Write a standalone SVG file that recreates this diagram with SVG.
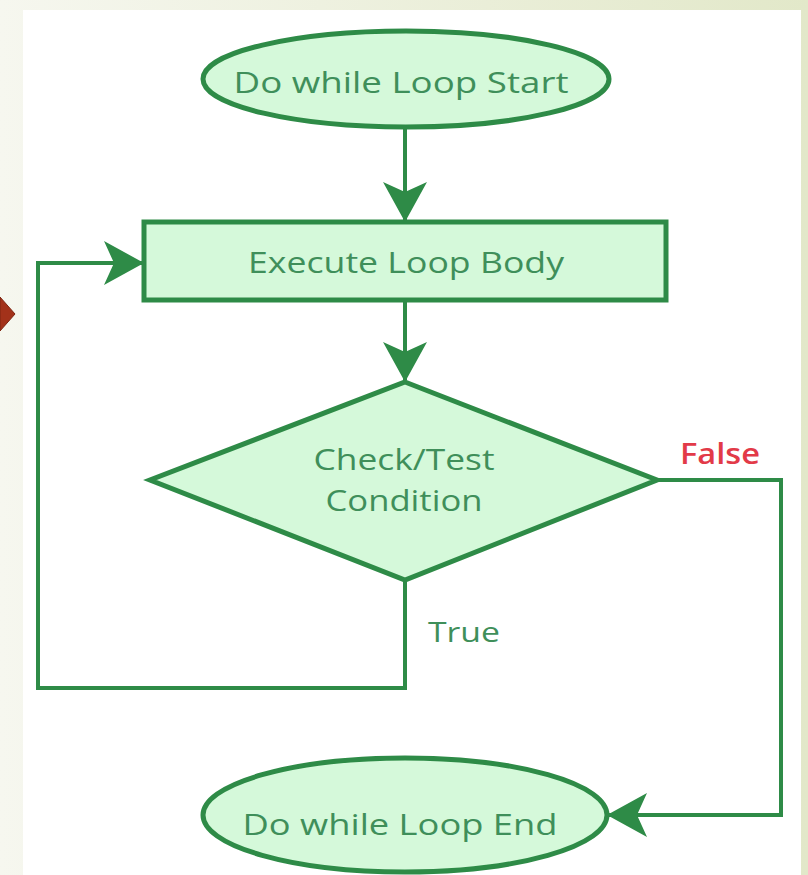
<svg xmlns="http://www.w3.org/2000/svg" width="808" height="875" viewBox="0 0 808 875">
  <defs>
    <linearGradient id="bg" x1="0" y1="0" x2="1" y2="0">
      <stop offset="0" stop-color="#f6f7ef"/>
      <stop offset="1" stop-color="#e2e8c9"/>
    </linearGradient>
    <marker id="arrow" viewBox="0 0 40 44" refX="38" refY="22" markerWidth="40" markerHeight="44" markerUnits="userSpaceOnUse" orient="auto">
      <path d="M0,0 L40,22 L0,44 L10,22 Z" fill="#2e8b47"/>
    </marker>
    <style>
      .shape { fill: #d5f9da; stroke: #2e8b47; stroke-width: 5; }
      .edge { fill: none; stroke: #2e8b47; stroke-width: 4; }
      .label { font-family: "Open Sans", "Liberation Sans", sans-serif; font-size: 29px; fill: #3f8f5a; text-anchor: middle; }
      .tag { font-family: "Open Sans", "Liberation Sans", sans-serif; font-size: 28px; text-anchor: middle; }
    </style>
  </defs>

  <!-- slide background and white panel -->
  <rect x="0" y="0" width="808" height="875" fill="url(#bg)"/>
  <rect x="23" y="10" width="778" height="865" fill="#ffffff"/>
  <polygon points="0,297 15,314 0,331" fill="#a3321a" stroke="#7d2511" stroke-width="1"/>

  <!-- connectors -->
  <g id="connectors">
    <line class="edge" x1="405" y1="128" x2="405" y2="220" marker-end="url(#arrow)"/>
    <line class="edge" x1="405" y1="302" x2="405" y2="380" marker-end="url(#arrow)"/>
    <polyline class="edge" points="405,580 405,688 38,688 38,263 142,263" marker-end="url(#arrow)"/>
    <polyline class="edge" points="657,480 781,480 781,815 609,815" marker-end="url(#arrow)"/>
    <text class="tag" x="720" y="464" fill="#e23a48" font-weight="600" textLength="80" lengthAdjust="spacingAndGlyphs">False</text>
    <text class="tag" x="464" y="642" fill="#3f8f5a" font-weight="500" textLength="72" lengthAdjust="spacingAndGlyphs">True</text>
  </g>

  <g id="start">
    <ellipse class="shape" cx="406" cy="79" rx="203" ry="48"/>
    <text class="label" x="401" y="93" textLength="335" lengthAdjust="spacingAndGlyphs">Do while Loop Start</text>
  </g>

  <g id="body">
    <rect class="shape" x="144" y="222" width="522" height="78"/>
    <text class="label" x="406" y="273" textLength="316" lengthAdjust="spacingAndGlyphs">Execute Loop Body</text>
  </g>

  <g id="condition">
    <polygon class="shape" points="405,382 657,480 405,580 150,480"/>
    <text class="label" x="404" y="470" textLength="181" lengthAdjust="spacingAndGlyphs">Check/Test</text>
    <text class="label" x="404" y="511" textLength="157" lengthAdjust="spacingAndGlyphs">Condition</text>
  </g>

  <g id="end">
    <ellipse class="shape" cx="405" cy="815" rx="202" ry="57"/>
    <text class="label" x="400" y="835" textLength="315" lengthAdjust="spacingAndGlyphs">Do while Loop End</text>
  </g>
</svg>
